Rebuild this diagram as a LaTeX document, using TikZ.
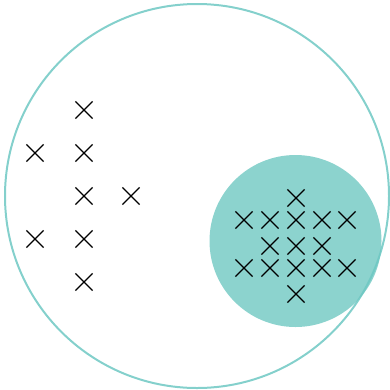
\documentclass[tikz,border=0pt]{standalone}
\usetikzlibrary{shapes.misc}
\definecolor{ringteal}{RGB}{110,200,195}
\definecolor{blobteal}{RGB}{140,211,206}
\tikzset{
  RG/.style={draw=ringteal,line width=2pt,draw opacity=0.85},
  BL/.style={fill=blobteal,draw=none},
  MK/.style={cross out,draw=black,line width=1.2pt,minimum size=16pt,inner sep=0pt},
}
\begin{document}
\begin{tikzpicture}[x=1pt,y=-1pt]
\useasboundingbox (0,0) rectangle (390,389);

% Subset (filled)
\fill[BL] (295.5,241) circle (86);

% Universe (outline)
\draw[RG] (197,196) circle (192);

% Outside points
\node[MK] (a1) at (35,153) {};
\node[MK] (a2) at (35,239) {};
\node[MK] (b1) at (84,110) {};
\node[MK] (b2) at (84,153) {};
\node[MK] (b3) at (84,196) {};
\node[MK] (b4) at (84,239) {};
\node[MK] (b5) at (84,282) {};
\node[MK] (c1) at (131,196) {};

% Inside points
\node[MK] (r1) at (296,198) {};
\node[MK] (r2) at (244,220) {};
\node[MK] (r3) at (270,220) {};
\node[MK] (r4) at (296,220) {};
\node[MK] (r5) at (322,220) {};
\node[MK] (r6) at (347,220) {};
\node[MK] (r7) at (270,246) {};
\node[MK] (r8) at (296,246) {};
\node[MK] (r9) at (322,246) {};
\node[MK] (r10) at (244,268) {};
\node[MK] (r11) at (270,268) {};
\node[MK] (r12) at (296,268) {};
\node[MK] (r13) at (322,268) {};
\node[MK] (r14) at (347,268) {};
\node[MK] (r15) at (296,294) {};

\end{tikzpicture}
\end{document}
